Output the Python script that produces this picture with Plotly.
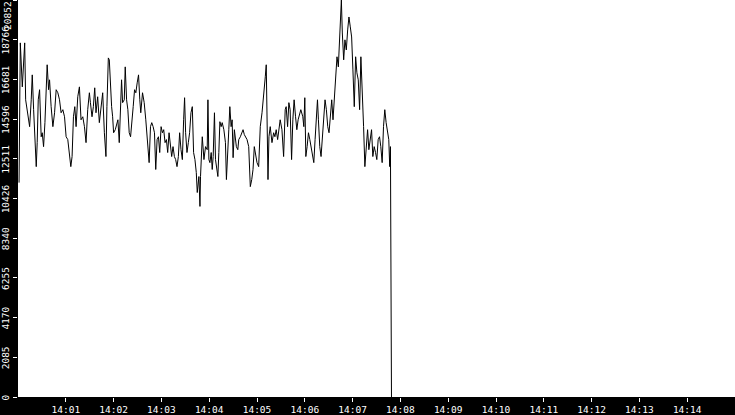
import pandas as pd
import plotly.graph_objects as go

# seconds after 14:00:00 and the value read at that moment
seconds = [
    1.3, 1.9, 2.9, 5.4, 8.4, 9.6, 12.5, 14.6, 16.6, 17.9,
    19.6, 21.6, 22.9, 24.1, 25.4, 27.1, 29.1, 30.4, 32.1, 33.8,
    35.4, 36.6, 38.4, 39.6, 41.6, 43.8, 45.9, 47.9, 50.0, 52.1,
    54.1, 56.3, 58.4, 60.4, 62.5, 64.6, 66.3, 67.9, 69.6, 71.3,
    72.9, 75.0, 77.1, 79.1, 81.3, 83.4, 85.4, 87.5, 89.6, 90.9,
    92.9, 94.6, 96.3, 97.9, 100.0, 102.1, 104.1, 106.3, 108.4, 110.4,
    111.6, 113.4, 114.6, 115.9, 117.5, 118.8, 120.0, 122.1, 123.8, 125.4,
    127.1, 128.4, 130.0, 131.3, 133.4, 134.6, 136.3, 137.9, 139.6, 141.3,
    142.9, 144.6, 146.3, 147.9, 149.6, 151.3, 152.9, 154.1, 156.3, 158.4,
    160.4, 162.5, 164.6, 166.3, 167.9, 169.6, 171.3, 172.9, 174.6, 176.3,
    177.9, 179.6, 181.3, 182.9, 184.6, 186.3, 187.9, 189.6, 191.3, 192.9,
    194.6, 196.3, 197.9, 199.6, 201.3, 202.9, 204.6, 206.3, 207.9, 209.1,
    210.4, 212.1, 213.8, 215.4, 217.1, 218.8, 220.4, 222.1, 223.8, 225.0,
    227.1, 228.4, 229.1, 231.3, 233.4, 235.4, 237.5,
    238.4, 239.6, 240.9, 242.5, 243.8, 245.0, 246.6, 247.9, 249.1, 250.9,
    252.1, 253.4, 255.0, 256.3, 258.4, 260.4, 261.6, 263.4, 264.6, 265.9,
    267.5, 268.8, 270.0, 271.6, 272.9, 274.1, 275.9, 277.1, 279.1, 281.3,
    282.5, 284.1, 285.9, 287.5, 289.6, 290.9, 291.6, 293.4, 295.0, 296.6,
    298.4, 300.0, 302.1, 304.1, 306.3, 308.4, 310.4, 311.6, 312.5, 313.8,
    315.0, 316.6, 318.8, 320.9, 322.5, 324.1, 325.9, 327.5, 329.1, 331.3,
    333.4, 335.4, 336.6, 338.4, 340.0, 341.6, 343.4, 345.0, 346.6, 348.4,
    350.0, 351.6, 353.4, 355.0,
    357.5, 358.8, 360.0, 361.3, 362.9, 364.6, 366.3, 367.9, 369.6, 371.3,
    372.9, 374.6, 375.9, 377.1, 378.8, 380.4, 382.1, 383.8, 385.4, 387.1,
    388.8, 390.4, 392.1, 393.8, 395.4, 397.1, 398.8, 400.4, 402.1, 403.8,
    405.0, 405.9, 407.1, 408.8, 410.4, 412.1, 413.8, 415.4, 417.1, 418.8,
    420.4, 422.1, 423.8, 425.4, 427.1, 428.8, 430.4, 432.1, 433.8, 435.4,
    437.1, 438.8, 440.4, 442.1, 443.8, 445.4, 447.1, 448.8, 450.4, 452.1,
    453.8, 455.4, 457.1, 458.8, 460.4, 462.1, 463.8, 465.4, 466.6, 467.5,
    468.8,
]
values = [
    11260, 17550, 18600, 16290, 18600, 15610, 14720, 14200, 15610, 16920,
    15090, 12630, 12100, 13360, 15610, 16140, 13670, 13880, 13150, 14410,
    16660, 17450, 16140, 16660, 15250, 14200, 14930, 16140, 15980, 15610,
    14930, 15090, 14720, 13670, 13520, 12840, 12100, 12630, 14720, 15250,
    14200, 15770, 16290, 14560, 14720, 14200, 13360, 15090, 15980, 15460,
    14720, 15250, 16240, 14930, 15770, 14410, 15250, 15980, 13880, 12630,
    15250, 17810, 17710, 16500, 15250, 14720, 13880, 14040, 14410, 14560,
    13360, 15250, 16660, 15460, 15610, 17340, 15610, 15090, 13880, 13670,
    14720, 15250, 16140, 15980, 16500, 16920, 15610, 14930, 15980, 15460,
    14560, 13150, 12310, 14200, 14410, 14200, 13880, 11950, 13520, 13670,
    12840, 14200, 13880, 14040, 13360, 13520, 12840, 13880, 12990, 12630,
    13150, 12630, 12470, 12100, 12630, 13880, 12990, 12470, 14560, 15720,
    13880, 12840, 13360, 13880, 14930, 15250, 12840, 12470, 11790, 10740,
    11580, 10010, 11580, 13670, 12470, 13150, 12990,
    15610, 12470, 12310, 12840, 11950, 12630, 14930, 12470, 11950, 11580,
    12840, 14460, 14200, 14410, 14040, 13360, 11420, 13520, 14040, 15250,
    14200, 14560, 12570, 14040, 13360, 13150, 12990, 13520, 13670, 13880,
    14040, 13780, 13620, 13520, 13150, 12100, 11050, 11420, 11950, 13150,
    12630, 12310, 12100, 14200, 14930, 15770, 16820, 17450, 15460, 11420,
    13670, 14200, 13360, 13880, 13670, 14040, 13520, 14200, 14560, 14040,
    12630, 15090, 15250, 14200, 15460, 15090, 12470, 14560, 15610, 14720,
    14040, 14560, 14930, 15090,
    14720, 14200, 15720, 12630, 13150, 13880, 13520, 13150, 12840, 12310,
    13520, 14720, 15610, 14560, 13150, 12630, 13520, 14410, 15610, 15090,
    14200, 13880, 14930, 15610, 14560, 15770, 17030, 17870, 17340, 18760,
    20170, 20850, 19120, 17710, 18760, 18230, 19280, 19960, 19440, 18910,
    17180, 15250, 17870, 17030, 16660, 15090, 17870, 16290, 14200, 12100,
    13150, 14040, 12990, 13520, 14040, 12630, 13150, 12840, 12470, 13520,
    13670, 13150, 12310, 14200, 15090, 14410, 13880, 13520, 12100, 13150,
    0,
]

y_ticks = ["0", "2085", "4170", "6255", "8340", "10426", "12511", "14596",
           "16681", "18766", "20852"]
x_ticks = ["14:01", "14:02", "14:03", "14:04", "14:05", "14:06", "14:07",
           "14:08", "14:09", "14:10", "14:11", "14:12", "14:13", "14:14"]

day = "2024-01-01 "
times = pd.Timestamp(day + "14:00:00") + pd.to_timedelta(seconds, unit="s")

fig = go.Figure()
fig.add_trace(go.Scatter(x=times, y=values, mode="lines",
                         line=dict(color="black", width=1), hoverinfo="skip"))

yfont = dict(family="DejaVu Sans Mono", size=9.5, color="white")
xfont = dict(family="DejaVu Sans Mono", size=9.5, color="white")

fig.update_layout(
    width=735, height=415,
    margin=dict(l=15, r=0, t=0, b=16, pad=0),
    paper_bgcolor="black", plot_bgcolor="white",
    showlegend=False,
    font=yfont,
)
fig.update_xaxes(
    range=[day + "14:00:00", day + "14:15:00"],
    tickvals=[day + t + ":00" for t in x_ticks], ticktext=x_ticks,
    ticks="outside", ticklen=4, tickcolor="white", tickwidth=1,
    showgrid=False, zeroline=False, showline=False, tickfont=xfont,
)
# top label sits inside the strip, handled by the annotation below
fig.update_yaxes(
    range=[0, 20852],
    tickvals=[int(v) for v in y_ticks], ticktext=y_ticks[:-1] + [""],
    tickangle=-90, ticks="outside", ticklen=4, tickcolor="white", tickwidth=1,
    ticklabelshift=2,
    showgrid=False, zeroline=False, showline=False, tickfont=yfont,
)
fig.add_annotation(text=y_ticks[-1], x=0, xref="paper", xanchor="right", xshift=-4,
                   y=1, yref="paper", yanchor="top", textangle=-90,
                   showarrow=False, font=yfont, borderpad=0)

# no page margin so the chart sits at the window's corner
fig.write_html("out.html", config={"displayModeBar": False},
               post_script="document.body.style.margin='0';")
